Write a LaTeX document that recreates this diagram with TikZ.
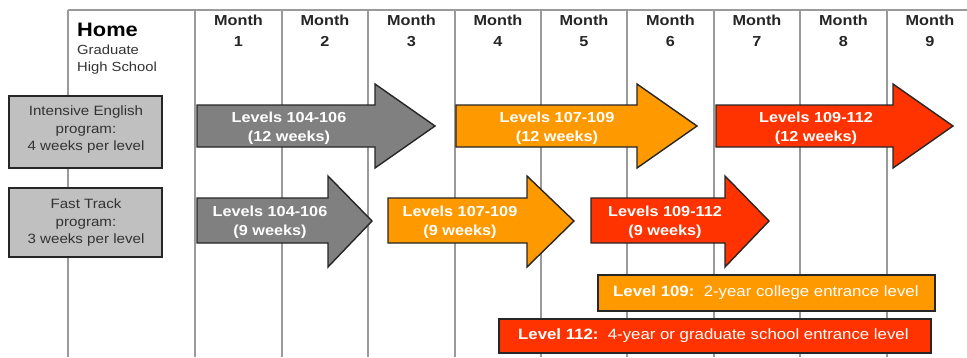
\documentclass[tikz,border=0pt]{standalone}
\usepackage{fontspec}
\setmainfont{Liberation Sans}[FakeStretch=1.12]
\definecolor{gridc}{HTML}{9A9A9A}
\definecolor{boxfill}{HTML}{C0C0C0}
\definecolor{arrgray}{HTML}{808080}
\definecolor{arrorange}{HTML}{FF9900}
\definecolor{arrred}{HTML}{FF3300}
\definecolor{edgec}{HTML}{262626}
\definecolor{boxtext}{HTML}{333333}
\tikzset{
  gridline/.style={draw=gridc, line width=1.6pt},
  arrowshape/.style={draw=edgec, line width=1.4pt, line join=miter},
  progbox/.style={draw=edgec, fill=boxfill, line width=1.8pt},
  progtext/.style={align=center, text=boxtext, font=\fontsize{13.5}{17.5}\selectfont, inner sep=0pt},
  arrtext/.style={align=center, text=white, font=\bfseries\fontsize{14.5}{19}\selectfont, inner sep=0pt},
  monthtext/.style={align=center, text=black!85, font=\bfseries\fontsize{14.5}{21}\selectfont, inner sep=0pt},
  bartext/.style={anchor=west, text=white, font=\fontsize{15}{18}\selectfont, inner sep=0pt},
}
\begin{document}
\begin{tikzpicture}[x=1pt,y=-1pt]
\useasboundingbox (0,0) rectangle (967,357);
% grid
\draw[gridline] (68,10) -- (967,10);
\foreach \gx in {68,195,282,368,455,541,627,714,800,887}{
  \draw[gridline] (\gx,10) -- (\gx,357);
}
% header
\node[anchor=west, inner sep=0pt, font=\bfseries\fontsize{19.5}{21}\selectfont] (home) at (77,30) {Home};
\node[anchor=west, inner sep=0pt, align=left, text=boxtext, font=\fontsize{13.2}{17}\selectfont] (school) at (77,60) {Graduate\\High School};
\foreach \i/\cx in {1/238.5,2/325,3/411.5,4/498,5/584,6/670.5,7/757,8/843.5,9/930}{
  \node[monthtext] (m\i) at (\cx,31) {Month\\\i};
}
% program boxes
\draw[progbox] (9,96) rectangle (162,168);
\node[progtext] (prog1) at (86,130) {Intensive English\\program:\\4 weeks per level};
\draw[progbox] (9,188) rectangle (162,257);
\node[progtext] (prog2) at (86,223) {Fast Track\\program:\\3 weeks per level};
% row 1 arrows
\draw[arrowshape, fill=arrgray] (197,105) -- (375,105) -- (375,84) -- (435,126) -- (375,168) -- (375,147) -- (197,147) -- cycle;
\node[arrtext] (a11) at (289,128) {Levels 104-106\\(12 weeks)};
\draw[arrowshape, fill=arrorange] (456,105) -- (637,105) -- (637,84) -- (697,126) -- (637,168) -- (637,147) -- (456,147) -- cycle;
\node[arrtext] (a12) at (557,128) {Levels 107-109\\(12 weeks)};
\draw[arrowshape, fill=arrred] (716,105) -- (893,105) -- (893,84) -- (953,126) -- (893,168) -- (893,147) -- (716,147) -- cycle;
\node[arrtext] (a13) at (816,128) {Levels 109-112\\(12 weeks)};
% row 2 arrows
\draw[arrowshape, fill=arrgray] (197,198) -- (328,198) -- (328,176) -- (372,221) -- (328,267) -- (328,243) -- (197,243) -- cycle;
\node[arrtext] (a21) at (270,222) {Levels 104-106\\(9 weeks)};
\draw[arrowshape, fill=arrorange] (388,198) -- (527,198) -- (527,176) -- (574,221) -- (527,267) -- (527,243) -- (388,243) -- cycle;
\node[arrtext] (a22) at (460,222) {Levels 107-109\\(9 weeks)};
\draw[arrowshape, fill=arrred] (591,198) -- (725,198) -- (725,176) -- (769,221) -- (725,267) -- (725,243) -- (591,243) -- cycle;
\node[arrtext] (a23) at (665,222) {Levels 109-112\\(9 weeks)};
% bars
\draw[arrowshape, fill=arrorange] (598,275) rectangle (935,311);
\node[bartext] (bar1) at (613,293) {\textbf{Level 109:}\ \ 2-year college entrance level};
\draw[arrowshape, fill=arrred] (499,319) rectangle (931,353);
\node[bartext] (bar2) at (518,336) {\textbf{Level 112:}\ \ 4-year or graduate school entrance level};
\end{tikzpicture}
\end{document}
